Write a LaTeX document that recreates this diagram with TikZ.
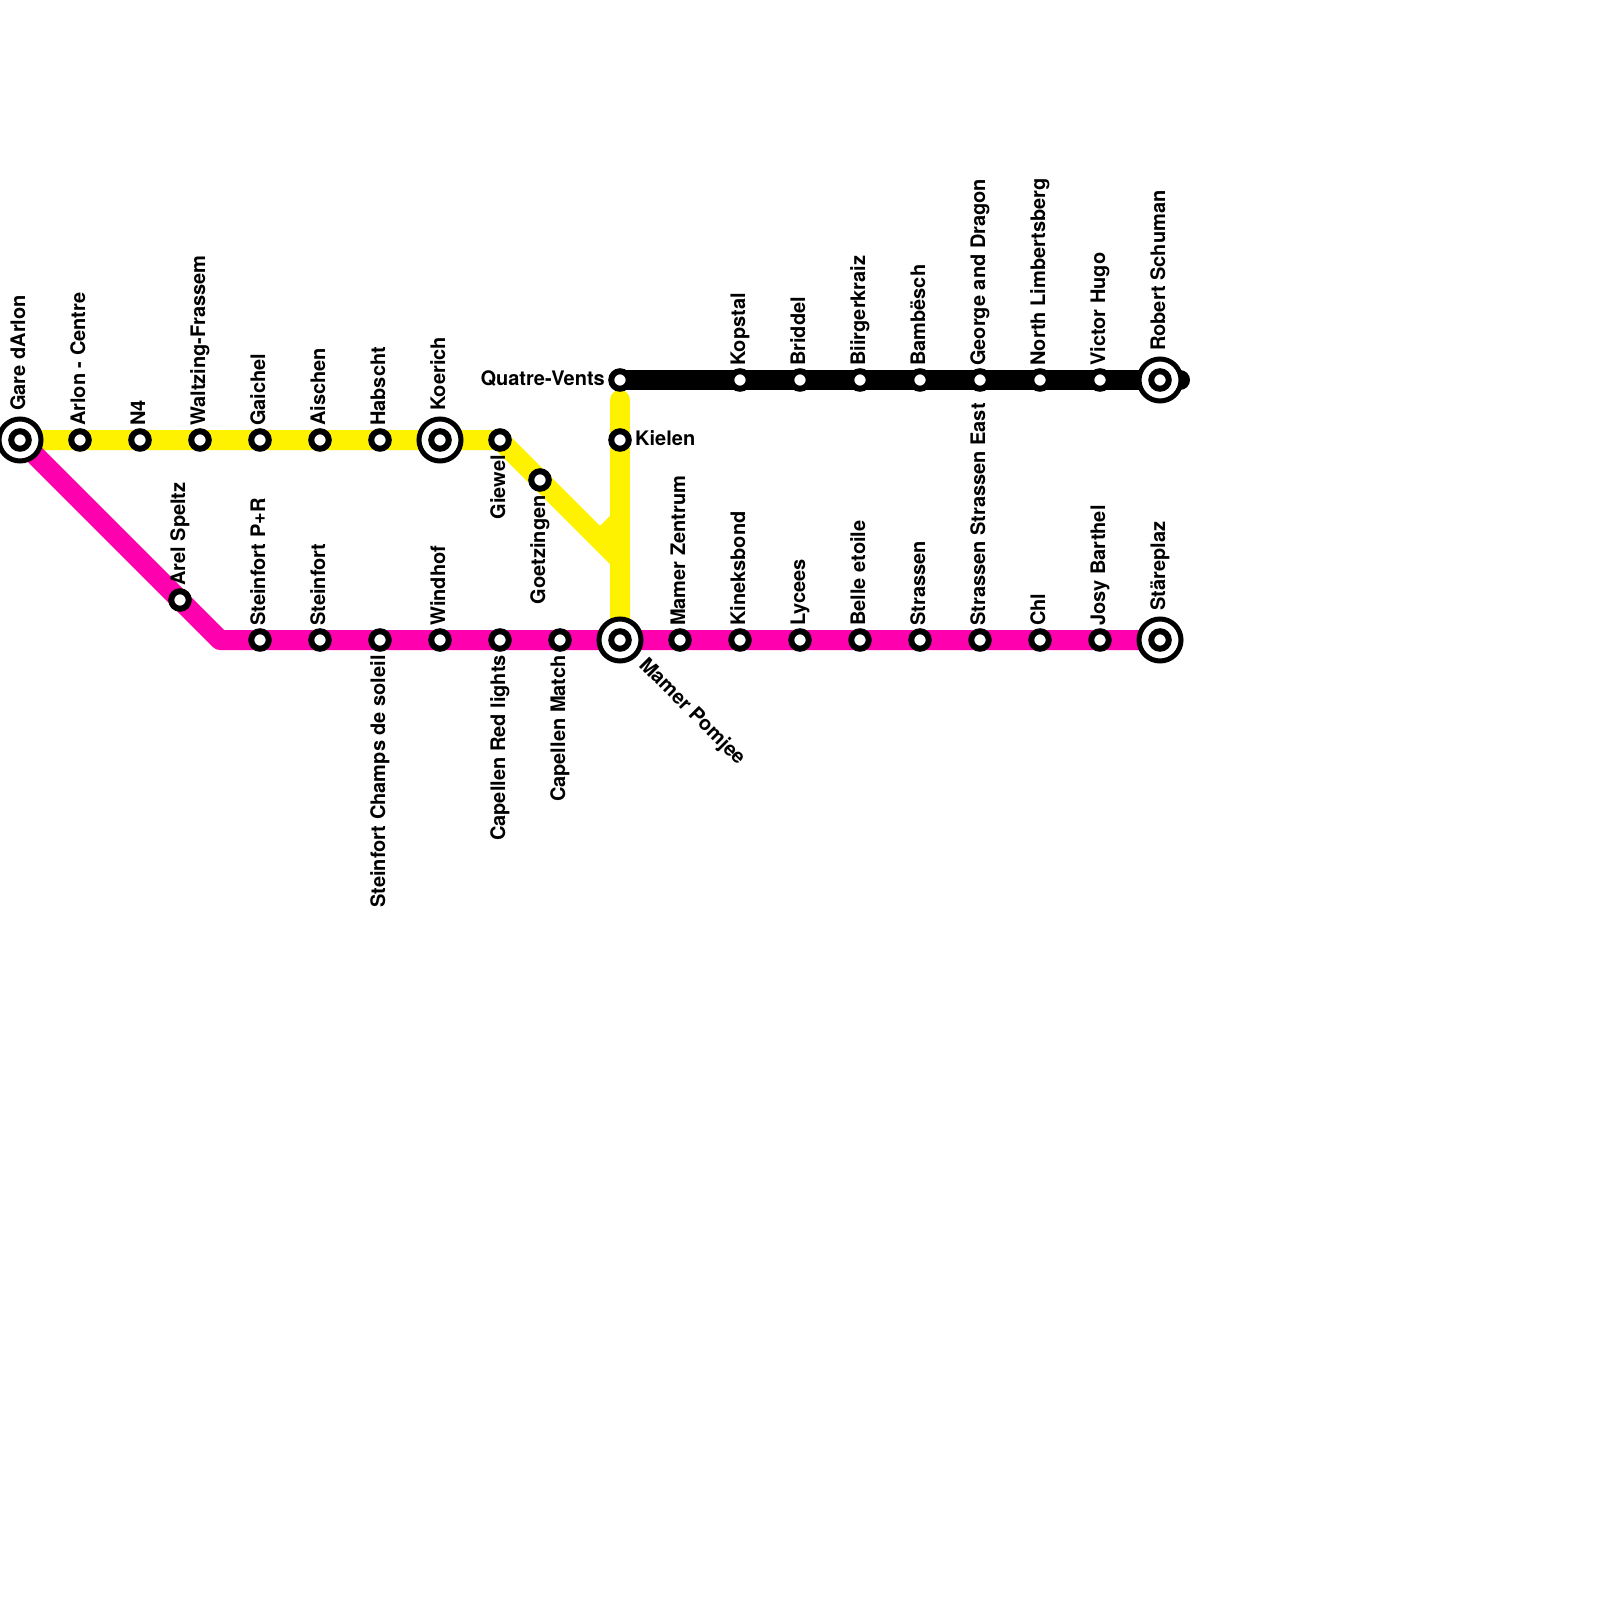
\documentclass[tikz,border=0pt]{standalone}
\usepackage{fontspec}
\setmainfont{TeX Gyre Heros}
\usetikzlibrary{backgrounds}
\definecolor{lineyellow}{HTML}{FFF200}
\definecolor{linepink}{HTML}{FF00AE}
\tikzset{
  x=1pt,y=-1pt,
  stn/.style={circle,draw=black,fill=white,line width=6pt,minimum size=17.5pt,inner sep=0pt},
  hub/.style={circle,draw=black,fill=white,line width=5pt,minimum size=42pt,inner sep=0pt},
  route/.style={line width=20pt,line join=round},
  lbl/.style={font=\bfseries\fontsize{20}{22}\selectfont,inner sep=0pt,text=black},
  lup/.style={lbl,rotate=90,anchor=base west},
  ldn/.style={lbl,rotate=90,anchor=base east},
}
\newcommand{\stationmark}[3]{\node[stn] (#1) at (#2,#3) {};}
\newcommand{\hubmark}[3]{\node[hub] (#1) at (#2,#3) {}; \node[stn] (#1i) at (#2,#3) {};}
\begin{document}
\begin{tikzpicture}
\useasboundingbox (0,0) rectangle (1600,1600);
% stations
\hubmark{gare}{20}{440}
\stationmark{arlon}{80}{440}
\stationmark{nfour}{140}{440}
\stationmark{waltz}{200}{440}
\stationmark{gaichel}{260}{440}
\stationmark{aischen}{320}{440}
\stationmark{habscht}{380}{440}
\hubmark{koerich}{440}{440}
\stationmark{giewel}{500}{440}
\stationmark{goetz}{540}{480}
\stationmark{kielen}{620}{440}
\stationmark{quatre}{620}{380}
\stationmark{kopstal}{740}{380}
\stationmark{briddel}{800}{380}
\stationmark{birger}{860}{380}
\stationmark{bamb}{920}{380}
\stationmark{george}{980}{380}
\stationmark{north}{1040}{380}
\stationmark{victor}{1100}{380}
\hubmark{robert}{1160}{380}
\stationmark{arel}{180}{600}
\stationmark{stpr}{260}{640}
\stationmark{stein}{320}{640}
\stationmark{stcha}{380}{640}
\stationmark{windhof}{440}{640}
\stationmark{capred}{500}{640}
\stationmark{capmat}{560}{640}
\hubmark{mamer}{620}{640}
\stationmark{zentrum}{680}{640}
\stationmark{kineks}{740}{640}
\stationmark{lycees}{800}{640}
\stationmark{belle}{860}{640}
\stationmark{strassen}{920}{640}
\stationmark{streast}{980}{640}
\stationmark{chl}{1040}{640}
\stationmark{josy}{1100}{640}
\hubmark{stare}{1160}{640}
% free route points
\coordinate (ycorner) at (620,560);
\coordinate (ytop) at (620,400);
\coordinate (ybend) at (620,520);
\coordinate (ystub) at (600,540);
\coordinate (pcorner) at (220,640);
\coordinate (bend) at (1180,380);
% routes
\begin{pgfonlayer}{background}
\fill[white] (0,0) rectangle (1600,1600);
\draw[route,black,line cap=round] (quatre.center) -- (bend);
\draw[route,lineyellow] (gare.center) -- (giewel.center) -- (ycorner) -- (mamer.center);
\draw[route,lineyellow,line cap=round] (ytop) -- (mamer.center);
\draw[route,lineyellow] (ybend) -- (ystub);
\draw[route,linepink] (gare.center) -- (pcorner) -- (stare.center);
\end{pgfonlayer}
% labels
\node[lup] (t1) at (25,411) {Gare dArlon};
\node[lup] (t2) at (85,426) {Arlon - Centre};
\node[lup] (t3) at (145,426) {N4};
\node[lup] (t4) at (205,426) {Waltzing-Frassem};
\node[lup] (t5) at (265,426) {Gaichel};
\node[lup] (t6) at (325,426) {Aischen};
\node[lup] (t7) at (385,426) {Habscht};
\node[lup] (t8) at (445,411) {Koerich};
\node[ldn] (t9) at (505,455) {Giewel};
\node[ldn] (t10) at (545,495) {Goetzingen};
\node[lbl,anchor=base west] (t11) at (635,445) {Kielen};
\node[lbl,anchor=base east] (t12) at (605,385) {Quatre-Vents};
\node[lup] (t13) at (745,366) {Kopstal};
\node[lup] (t14) at (805,366) {Briddel};
\node[lup] (t15) at (865,366) {Biirgerkraiz};
\node[lup] (t16) at (925,366) {Bambësch};
\node[lup] (t17) at (985,366) {George and Dragon};
\node[lup] (t18) at (1045,366) {North Limbertsberg};
\node[lup] (t19) at (1105,366) {Victor Hugo};
\node[lup] (t20) at (1165,351) {Robert Schuman};
\node[lup] (t21) at (185,586) {Arel Speltz};
\node[lup] (t22) at (265,626) {Steinfort P+R};
\node[lup] (t23) at (325,626) {Steinfort};
\node[ldn] (t24) at (385,655) {Steinfort Champs de soleil};
\node[lup] (t25) at (445,626) {Windhof};
\node[ldn] (t26) at (505,655) {Capellen Red lights};
\node[ldn] (t27) at (565,655) {Capellen Match};
\node[lbl,rotate=-45,anchor=base west] (t28) at (638,666) {Mamer Pomjee};
\node[lup] (t29) at (685,626) {Mamer Zentrum};
\node[lup] (t30) at (745,626) {Kineksbond};
\node[lup] (t31) at (805,626) {Lycees};
\node[lup] (t32) at (865,626) {Belle etoile};
\node[lup] (t33) at (925,626) {Strassen};
\node[lup] (t34) at (985,626) {Strassen Strassen East};
\node[lup] (t35) at (1045,626) {Chl};
\node[lup] (t36) at (1105,626) {Josy Barthel};
\node[lup] (t37) at (1165,611) {Stäreplaz};
\end{tikzpicture}
\end{document}
